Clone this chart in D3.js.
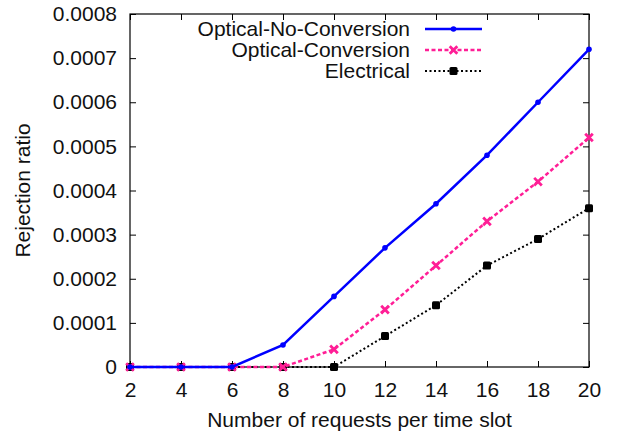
<!DOCTYPE html>
<html>
<head>
<meta charset="utf-8">
<script src="https://cdn.jsdelivr.net/npm/d3@7"></script>
<style>
  html, body { margin: 0; padding: 0; background: #fff; }
  svg { display: block; }
  text { font-family: "Liberation Sans", Arial, Helvetica, sans-serif; fill: #111; }
</style>
</head>
<body>
<svg id="chart" width="617" height="437"></svg>
<script>
// Requests per time slot
const requests = [2, 4, 6, 8, 10, 12, 14, 16, 18, 20];
// Rejection ratio per scheme
const opticalNoConversion = [0, 0, 0, 0.00005, 0.00016, 0.00027, 0.00037, 0.00048, 0.0006, 0.00072];
const opticalConversion   = [0, 0, 0, 0, 0.00004, 0.00013, 0.00023, 0.00033, 0.00042, 0.00052];
const electrical          = [0, 0, 0, 0, 0, 0.00007, 0.00014, 0.00023, 0.00029, 0.00036];
const seriesNames = ["Optical-No-Conversion", "Optical-Conversion", "Electrical"];
const xTicks = [2, 4, 6, 8, 10, 12, 14, 16, 18, 20];
const yTicks = [0, 0.0001, 0.0002, 0.0003, 0.0004, 0.0005, 0.0006, 0.0007, 0.0008];
const yTickLabels = ["0", "0.0001", "0.0002", "0.0003", "0.0004", "0.0005", "0.0006", "0.0007", "0.0008"];

const svg = d3.select("#chart");
const plotL = 130, plotR = 589, plotT = 14, plotB = 367;
const x = d3.scaleLinear().domain([2, 20]).range([plotL, plotR]);
const y = d3.scaleLinear().domain([0, 0.0008]).range([plotB, plotT]);
const fontSize = 21;

const series = [
  { name: seriesNames[0], values: opticalNoConversion, color: "#0000ff", width: 2.5, dash: null, marker: "circle" },
  { name: seriesNames[1], values: opticalConversion, color: "#ff1e96", width: 2.5, dash: "4,2.5", marker: "cross" },
  { name: seriesNames[2], values: electrical, color: "#000000", width: 2, dash: "2,2.5", marker: "square" }
];

// Frame
svg.append("rect")
  .attr("x", plotL).attr("y", plotT)
  .attr("width", plotR - plotL).attr("height", plotB - plotT)
  .attr("fill", "none").attr("stroke", "#000").attr("stroke-width", 1.2);

// Inward ticks on all four sides
const tickLen = 6;
const xAxisB = d3.axisBottom(x).tickValues(xTicks).tickSize(-tickLen).tickPadding(15).tickFormat(d3.format("d"));
const xAxisT = d3.axisTop(x).tickValues(xTicks).tickSize(-tickLen).tickFormat("");
const yAxisL = d3.axisLeft(y).tickValues(yTicks).tickSize(-tickLen).tickPadding(13)
  .tickFormat((d, i) => yTickLabels[i]);
const yAxisR = d3.axisRight(y).tickValues(yTicks).tickSize(-tickLen).tickFormat("");

function styleAxis(g) {
  g.select(".domain").remove();
  g.selectAll(".tick line").attr("stroke", "#000").attr("stroke-width", 1);
  g.selectAll(".tick text")
    .style("font-family", "'Liberation Sans', Arial, Helvetica, sans-serif")
    .style("font-size", fontSize + "px").attr("fill", "#111");
}
svg.append("g").attr("transform", `translate(0,${plotB})`).call(xAxisB).call(styleAxis);
svg.append("g").attr("transform", `translate(0,${plotT})`).call(xAxisT).call(styleAxis);
svg.append("g").attr("transform", `translate(${plotL},0)`).call(yAxisL).call(styleAxis);
svg.append("g").attr("transform", `translate(${plotR},0)`).call(yAxisR).call(styleAxis);

// Axis titles
svg.append("text")
  .attr("x", (plotL + plotR) / 2).attr("y", 427)
  .attr("text-anchor", "middle").style("font-size", fontSize + "px")
  .text("Number of requests per time slot");
svg.append("text")
  .attr("transform", `translate(30,${(plotT + plotB) / 2}) rotate(-90)`)
  .attr("text-anchor", "middle").style("font-size", fontSize + "px")
  .text("Rejection ratio");

function drawMarker(g, cx, cy, s) {
  if (s.marker === "circle") {
    g.append("circle").attr("cx", cx).attr("cy", cy).attr("r", 2.8).attr("fill", s.color);
  } else if (s.marker === "cross") {
    const r = 3.8;
    g.append("path")
      .attr("d", `M${cx - r},${cy - r}L${cx + r},${cy + r}M${cx - r},${cy + r}L${cx + r},${cy - r}`)
      .attr("stroke", s.color).attr("stroke-width", 2.8).attr("fill", "none");
  } else {
    const r = 4;
    g.append("rect").attr("x", cx - r).attr("y", cy - r).attr("width", 2 * r).attr("height", 2 * r)
      .attr("rx", 1.5).attr("fill", s.color);
  }
}

const line = d3.line().x(d => x(d[0])).y(d => y(d[1]));

// Electrical is drawn first and the blue series last, so blue sits on top
series.slice().reverse().forEach(s => {
  const pts = requests.map((r, i) => [r, s.values[i]]);
  const g = svg.append("g");
  g.append("path").datum(pts).attr("d", line)
    .attr("fill", "none").attr("stroke", s.color).attr("stroke-width", s.width)
    .attr("stroke-dasharray", s.dash);
  pts.forEach(p => drawMarker(g, x(p[0]), y(p[1]), s));
});

// Legend
const legendRows = [29, 50, 71];
series.forEach((s, i) => {
  const yy = legendRows[i];
  const g = svg.append("g");
  g.append("text").attr("x", 410).attr("y", yy).attr("dy", "0.35em")
    .attr("text-anchor", "end").style("font-size", fontSize + "px").text(s.name);
  g.append("line").attr("x1", 425).attr("x2", 482).attr("y1", yy).attr("y2", yy)
    .attr("stroke", s.color).attr("stroke-width", s.width).attr("stroke-dasharray", s.dash);
  drawMarker(g, 453.5, yy, s);
});
</script>
</body>
</html>
